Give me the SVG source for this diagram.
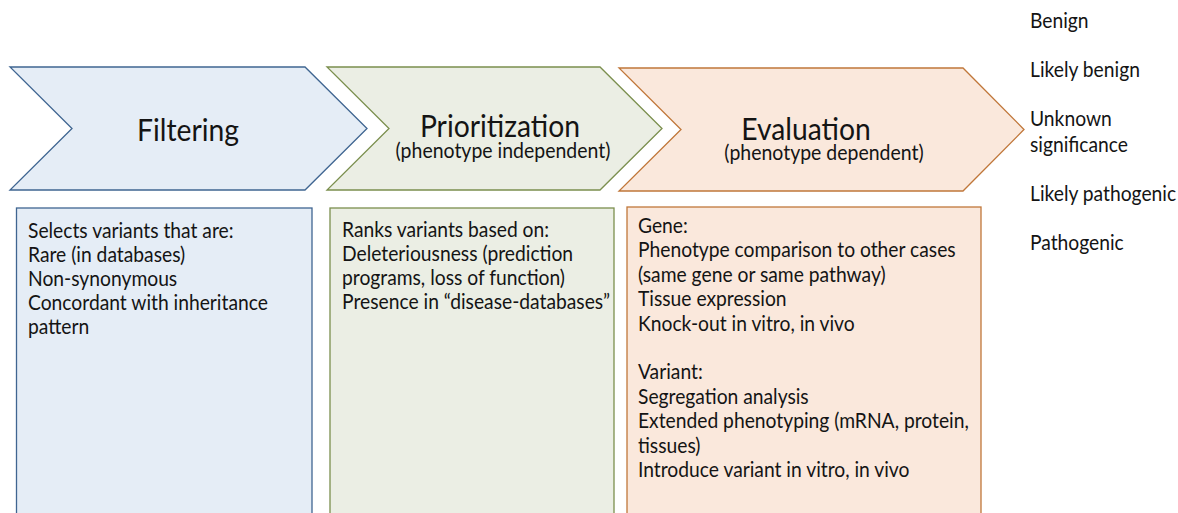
<svg xmlns="http://www.w3.org/2000/svg" width="1178" height="513" viewBox="0 0 1178 513">
  <style>
    text { font-family: Lato, "Open Sans", "Liberation Sans", sans-serif; fill: #141414; }
    .title { font-size: 30px; text-anchor: middle; }
    .sub { font-size: 20.5px; text-anchor: middle; }
    .body { font-size: 20.5px; }
    .blue { fill: #e5edf6; stroke: #3f6591; stroke-width: 1.3; }
    .green { fill: #ebeee4; stroke: #7b8f4e; stroke-width: 1.3; }
    .orange { fill: #fae8dc; stroke: #c0773a; stroke-width: 1.3; }
  </style>
  <rect width="1178" height="513" fill="#ffffff"/>

  <!-- step 1: filtering -->
  <g id="filtering">
    <polygon class="blue" points="10,67 305,67 367,128.5 305,190 10,190 72,128.5"/>
    <text class="title" transform="translate(188 0) scale(0.943 1)" x="0" y="141">Filtering</text>
  </g>
  <g id="filtering-details">
    <rect class="blue" x="16.5" y="208" width="295.5" height="320" stroke-width="1.5"/>
    <g transform="translate(28 0) scale(0.94 1)">
      <text class="body" x="0" y="238">Selects variants that are:</text>
      <text class="body" x="0" y="262">Rare (in databases)</text>
      <text class="body" x="0" y="286">Non-synonymous</text>
      <text class="body" x="0" y="310">Concordant with inheritance</text>
      <text class="body" x="0" y="334">pattern</text>
    </g>
  </g>

  <!-- step 2: prioritization -->
  <g id="prioritization">
    <polygon class="green" points="327,67 600,67 662,128.5 600,190 327,190 389,128.5"/>
    <text class="title" transform="translate(500 0) scale(0.943 1)" x="0" y="137">Prioritization</text>
    <text class="sub" transform="translate(503 0) scale(0.95 1)" x="0" y="158">(phenotype independent)</text>
  </g>
  <g id="prioritization-details">
    <rect class="green" x="330" y="208" width="284" height="320" stroke-width="1.5"/>
    <g transform="translate(342 0) scale(0.94 1)">
      <text class="body" x="0" y="237">Ranks variants based on:</text>
      <text class="body" x="0" y="261">Deleteriousness (prediction</text>
      <text class="body" x="0" y="285">programs, loss of function)</text>
      <text class="body" x="0" y="309">Presence in “disease-databases”</text>
    </g>
  </g>

  <!-- step 3: evaluation -->
  <g id="evaluation">
    <polygon class="orange" points="619,68 963,68 1024,129.5 963,191 619,191 681,129.5"/>
    <text class="title" transform="translate(806 0) scale(0.943 1)" x="0" y="140">Evaluation</text>
    <text class="sub" transform="translate(824 0) scale(0.95 1)" x="0" y="160">(phenotype dependent)</text>
  </g>
  <g id="evaluation-details">
    <rect class="orange" x="627" y="207" width="354" height="320" stroke-width="1.5"/>
    <g transform="translate(638 0) scale(0.94 1)">
      <text class="body" x="0" y="233">Gene:</text>
      <text class="body" x="0" y="257.4">Phenotype comparison to other cases</text>
      <text class="body" x="0" y="281.8">(same gene or same pathway)</text>
      <text class="body" x="0" y="306.2">Tissue expression</text>
      <text class="body" x="0" y="330.6">Knock-out in vitro, in vivo</text>
      <text class="body" x="0" y="379.4">Variant:</text>
      <text class="body" x="0" y="403.8">Segregation analysis</text>
      <text class="body" x="0" y="428.2">Extended phenotyping (mRNA, protein,</text>
      <text class="body" x="0" y="452.6">tissues)</text>
      <text class="body" x="0" y="477">Introduce variant in vitro, in vivo</text>
    </g>
  </g>

  <!-- classification outcomes -->
  <g id="classes" transform="translate(1030 0) scale(0.94 1)">
    <text class="body" x="0" y="28">Benign</text>
    <text class="body" x="0" y="77">Likely benign</text>
    <text class="body" x="0" y="126">Unknown</text>
    <text class="body" x="0" y="152">significance</text>
    <text class="body" x="0" y="201">Likely pathogenic</text>
    <text class="body" x="0" y="250">Pathogenic</text>
  </g>

  <g id="connectors"/>
</svg>
